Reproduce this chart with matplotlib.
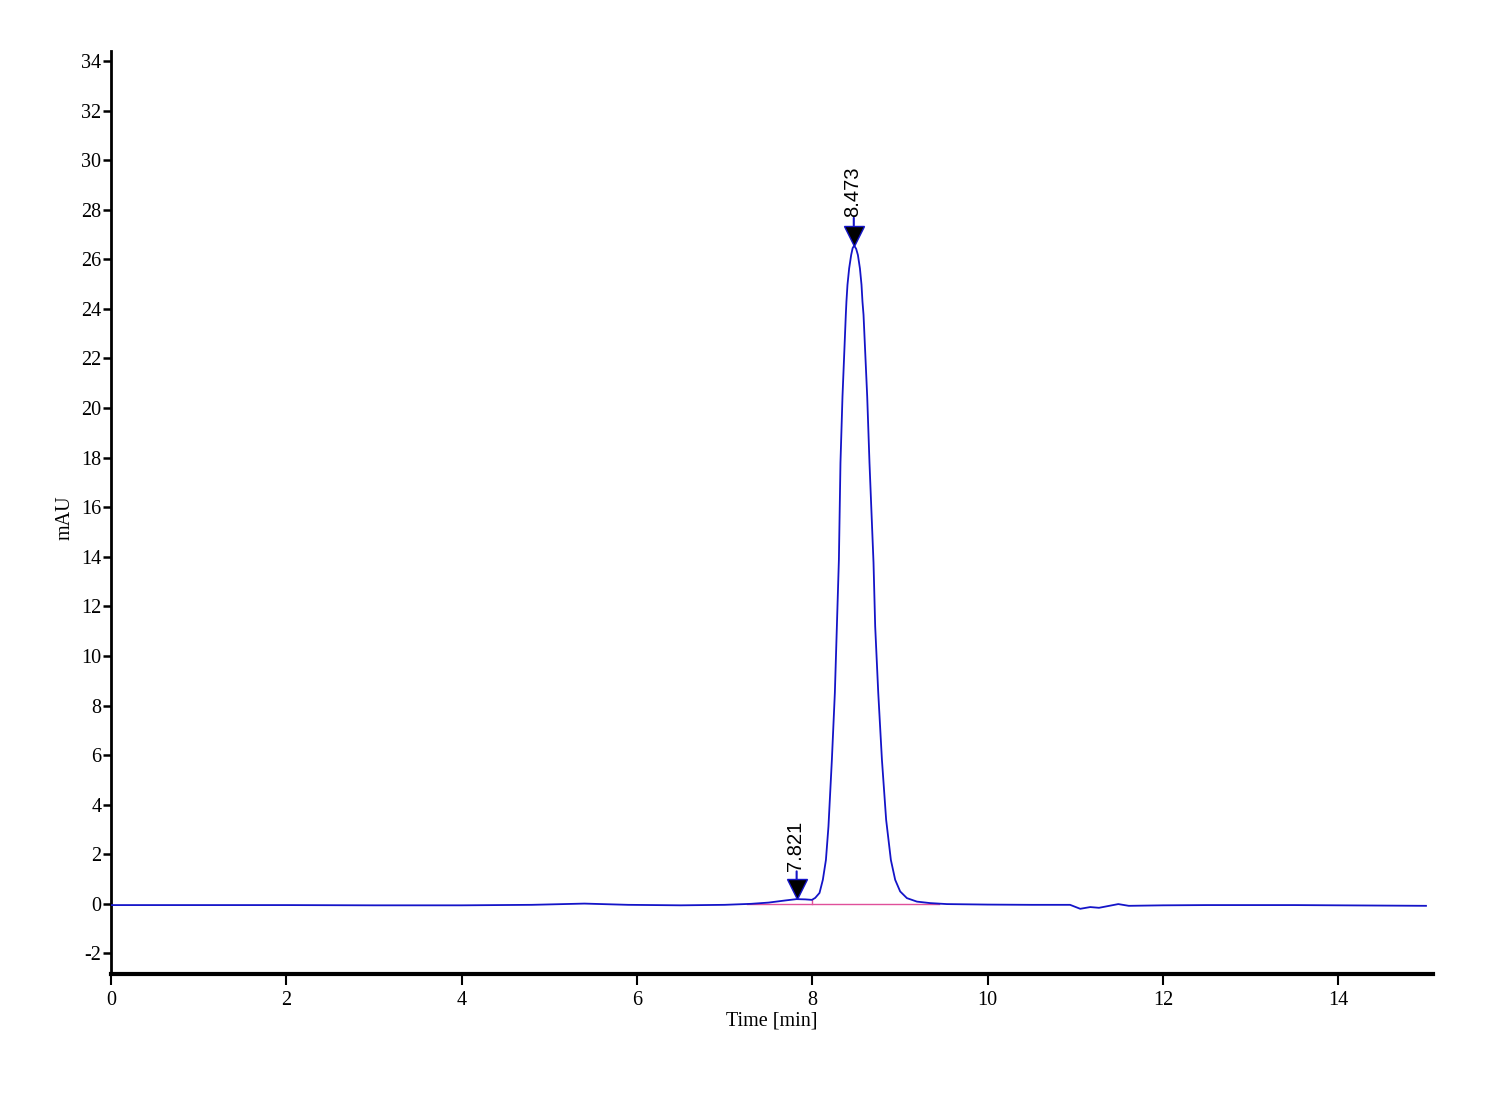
import matplotlib
matplotlib.use("Agg")
import matplotlib.pyplot as plt
from matplotlib.transforms import offset_copy

# ---- data ----
time_min = [0.0, 1.0, 2.0, 3.0, 4.0, 4.8, 5.4, 5.9, 6.5, 7.0, 7.3, 7.5, 7.7,
            7.82, 7.92, 7.995, 8.033, 8.082, 8.120, 8.155, 8.184, 8.223, 8.257,
            8.280, 8.303, 8.321, 8.344, 8.382, 8.389, 8.401, 8.420, 8.443, 8.460,
            8.477, 8.500, 8.520, 8.543, 8.561, 8.572, 8.584, 8.626, 8.652, 8.698,
            8.717, 8.752, 8.794, 8.842, 8.869, 8.896, 8.945, 9.002, 9.079, 9.193,
            9.344, 9.535, 10.0, 10.5, 10.94, 11.056, 11.17, 11.27, 11.49, 11.61,
            12.0, 12.5, 13.0, 13.5, 14.0, 14.5, 15.0]
mau = [-0.05, -0.05, -0.05, -0.06, -0.06, -0.04, 0.01, -0.04, -0.06, -0.04,
       0.0, 0.05, 0.14, 0.19, 0.18, 0.16, 0.24, 0.44, 0.97, 1.77, 3.12, 5.81,
       8.51, 11.19, 13.88, 17.79, 20.46, 23.76, 24.29, 24.97, 25.63, 26.17, 26.45,
       26.55, 26.42, 26.17, 25.63, 24.97, 24.29, 23.76, 20.46, 17.79, 13.76,
       11.19, 8.51, 5.81, 3.39, 2.58, 1.77, 0.97, 0.50, 0.23, 0.09, 0.03, -0.01,
       -0.03, -0.04, -0.04, -0.20, -0.13, -0.16, -0.01, -0.08, -0.06, -0.05,
       -0.05, -0.05, -0.06, -0.07, -0.08]

baseline_t = [7.25, 9.45]
baseline_v = [0.0, 0.0]
split_t = 8.0
split_v = [0.0, 0.16]

peak_times = [7.821, 8.473]
peak_heights = [0.19, 26.55]
peak_labels = ["7.821", "8.473"]

yticks = list(range(-2, 35, 2))
xticks = list(range(0, 15, 2))

BLUE = "#1414c8"
PINK = "#e0509a"

plt.rcParams["axes.unicode_minus"] = False

fig = plt.figure(figsize=(15, 11), dpi=100, facecolor="white")
ax = fig.add_axes([111 / 1500, 1 - 974 / 1100, (1433 - 111) / 1500, (974 - 51) / 1100])
ax.set_facecolor("white")

ax.plot(baseline_t, baseline_v, color=PINK, lw=1.0, zorder=2)
ax.plot([split_t, split_t], split_v, color=PINK, lw=1.0, zorder=2)
ax.plot(time_min, mau, color=BLUE, lw=1.3, zorder=3)

ms = 14.5
for t, h, lab in zip(peak_times, peak_heights, peak_labels):
    tr = offset_copy(ax.transData, fig=fig, x=0, y=ms / 2, units="points")
    ax.plot([t], [h], marker="v", ms=ms, mfc="black", mec=BLUE, mew=1.0,
            transform=tr, zorder=5, clip_on=False)
    tr_top = offset_copy(ax.transData, fig=fig, x=0, y=ms, units="points")
    tr_stem = offset_copy(ax.transData, fig=fig, x=0, y=ms + 5.5, units="points")
    ax.annotate("", xy=(t, h), xycoords=tr_top, xytext=(t, h), textcoords=tr_stem,
                arrowprops=dict(arrowstyle="-", color=BLUE, lw=1.5,
                                shrinkA=0, shrinkB=0))
    ax.annotate(lab, xy=(t, h), xytext=(-1, ms + 6), textcoords="offset points",
                rotation=90, ha="center", va="bottom", fontsize=14.5,
                family="Liberation Sans", color="black")

ax.set_xlim(0, 15.08)
ax.set_ylim(-2.83, 34.4)
ax.set_xticks(xticks)
ax.set_yticks(yticks)
ax.set_xticklabels([str(v) for v in xticks], family="Liberation Serif", fontsize=14.5)
ax.set_yticklabels([str(v) for v in yticks], family="Liberation Serif", fontsize=14.5)
ax.tick_params(axis="y", direction="out", length=6, width=1.8, pad=1)
ax.tick_params(axis="x", direction="out", length=8, width=1.5, pad=4)

for s in ["top", "right"]:
    ax.spines[s].set_visible(False)
ax.spines["left"].set_linewidth(2.0)
ax.spines["bottom"].set_linewidth(3.0)

fig.text(772 / 1500, 1 - 1021 / 1100, "Time [min]", ha="center", va="center",
         family="Liberation Serif", fontsize=14.5)
fig.text(65 / 1500, 1 - 518 / 1100, "mAU", ha="center", va="center", rotation=90,
         family="Liberation Serif", fontsize=14.5)

fig.savefig("out.png", dpi=100, facecolor="white")
